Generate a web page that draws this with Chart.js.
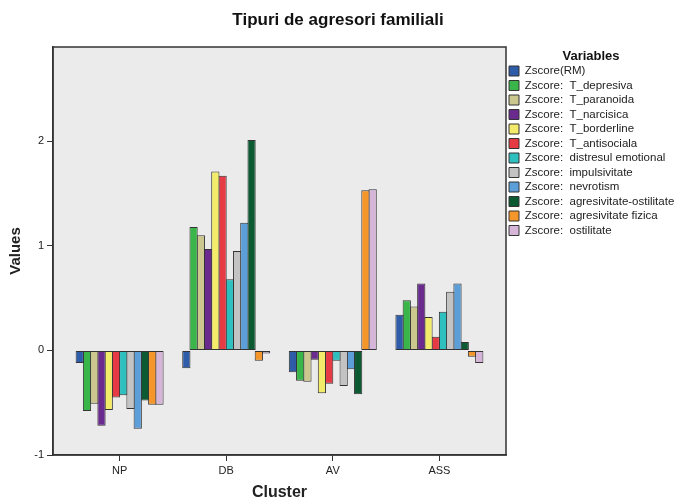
<!DOCTYPE html>
<html>
<head>
<meta charset="utf-8">
<script src="https://cdn.jsdelivr.net/npm/chart.js@4.4.1/dist/chart.umd.min.js"></script>
<style>
  html, body { margin: 0; padding: 0; background: #fff; }
  #wrap { width: 676px; height: 502px; }
</style>
</head>
<body>
<div id="wrap"><canvas id="clusterChart"></canvas></div>
<script>
// clusters on the x axis
const clusters = ['NP', 'DB', 'AV', 'ASS'];

const variables = [
  'Zscore(RM)',
  'Zscore:  T_depresiva',
  'Zscore:  T_paranoida',
  'Zscore:  T_narcisica',
  'Zscore:  T_borderline',
  'Zscore:  T_antisociala',
  'Zscore:  distresul emotional',
  'Zscore:  impulsivitate',
  'Zscore:  nevrotism',
  'Zscore:  agresivitate-ostilitate',
  'Zscore:  agresivitate fizica',
  'Zscore:  ostilitate'
];

// values per variable, in cluster order NP, DB, AV, ASS
const zRM           = [-0.12, -0.17, -0.21, 0.34];
const zDepresiva    = [-0.58, 1.18, -0.29, 0.48];
const zParanoida    = [-0.51, 1.10, -0.30, 0.42];
const zNarcisica    = [-0.72, 0.97, -0.09, 0.64];
const zBorderline   = [-0.57, 1.71, -0.41, 0.32];
const zAntisociala  = [-0.45, 1.67, -0.32, 0.13];
const zDistres      = [-0.43, 0.68, -0.10, 0.37];
const zImpulsiv     = [-0.56, 0.95, -0.34, 0.56];
const zNevrotism    = [-0.75, 1.22, -0.18, 0.64];
const zAgrOstilitate = [-0.48, 2.01, -0.42, 0.08];
const zAgrFizica    = [-0.52, -0.10, 1.53, -0.06];
const zOstilitate   = [-0.52, -0.03, 1.54, -0.12];

const seriesValues = [zRM, zDepresiva, zParanoida, zNarcisica, zBorderline, zAntisociala,
  zDistres, zImpulsiv, zNevrotism, zAgrOstilitate, zAgrFizica, zOstilitate];

const yTicks = [-1, 0, 1, 2];

const colors = ['#2f5ca8', '#3ab54a', '#cbc78f', '#6a2a8e', '#f2ec6a', '#e63a45',
  '#2ebfbf', '#c3c3c3', '#5c9fd8', '#0c5a32', '#f5962b', '#d6b6d8'];

// grey plot background + frame
const plotFrame = {
  id: 'plotFrame',
  beforeDraw(chart) {
    const {ctx, chartArea: a} = chart;
    ctx.save();
    ctx.fillStyle = '#ebebeb';
    ctx.fillRect(a.left, a.top, a.right - a.left, a.bottom - a.top);
    ctx.restore();
  },
  afterDraw(chart) {
    const {ctx, chartArea: a} = chart;
    ctx.save();
    ctx.strokeStyle = '#333';
    ctx.lineWidth = 1.5;
    ctx.strokeRect(a.left, a.top, a.right - a.left, a.bottom - a.top);
    ctx.restore();
  }
};

const datasets = variables.map((name, k) => ({
  label: name,
  data: seriesValues[k].map((v, i) => ({x: i + 1, y: v})),
  backgroundColor: colors[k],
  borderColor: '#333',
  borderWidth: 1,
  borderSkipped: false,
  categoryPercentage: 0.816,
  barPercentage: 1.138
}));

Chart.defaults.font.family = '"Liberation Sans", Arial, sans-serif';
Chart.defaults.color = '#222';

new Chart(document.getElementById('clusterChart'), {
  type: 'bar',
  data: { datasets: datasets },
  plugins: [plotFrame],
  options: {
    responsive: true,
    maintainAspectRatio: false,
    animation: false,
    layout: { padding: 0 },
    scales: {
      x: {
        type: 'linear',
        min: 0.375,
        max: 4.625,
        offset: false,
        afterBuildTicks: s => { s.ticks = clusters.map((c, i) => ({value: i + 1})); },
        ticks: {
          callback: v => clusters[v - 1] || '',
          font: { size: 11 },
          padding: 3,
          autoSkip: false,
          maxRotation: 0
        },
        grid: { drawOnChartArea: false, tickLength: 6, color: '#333', offset: false },
        border: { color: '#333', width: 1.5 },
        title: {
          display: true,
          text: 'Cluster',
          font: { size: 16, weight: 'bold' },
          padding: { top: 0, bottom: 0 }
        },
        afterFit: s => { s.height = 47; }
      },
      y: {
        min: -1,
        max: 2.9,
        afterBuildTicks: s => { s.ticks = yTicks.map(v => ({value: v})); },
        ticks: { font: { size: 11 }, padding: 3 },
        grid: { drawOnChartArea: false, tickLength: 6, color: '#333' },
        border: { color: '#333', width: 1.5 },
        title: {
          display: true,
          text: 'Values',
          font: { size: 15, weight: 'bold' },
          padding: { top: 7, bottom: 0 }
        },
        afterFit: s => { s.width = 53; }
      }
    },
    plugins: {
      title: {
        display: true,
        text: 'Tipuri de agresori familiali',
        font: { size: 17, weight: 'bold' },
        color: '#111',
        padding: { top: 9.8, bottom: 16.8 }
      },
      legend: {
        position: 'right',
        align: 'start',
        maxWidth: 170,
        title: {
          display: true,
          text: 'Variables',
          font: { size: 13, weight: 'bold' },
          color: '#111',
          padding: { top: 49.5, bottom: -2.85 }
        },
        labels: {
          boxWidth: 10,
          boxHeight: 10,
          padding: 3,
          font: { size: 11.5 }
        }
      },
      tooltip: { enabled: false }
    }
  }
});
</script>
</body>
</html>
